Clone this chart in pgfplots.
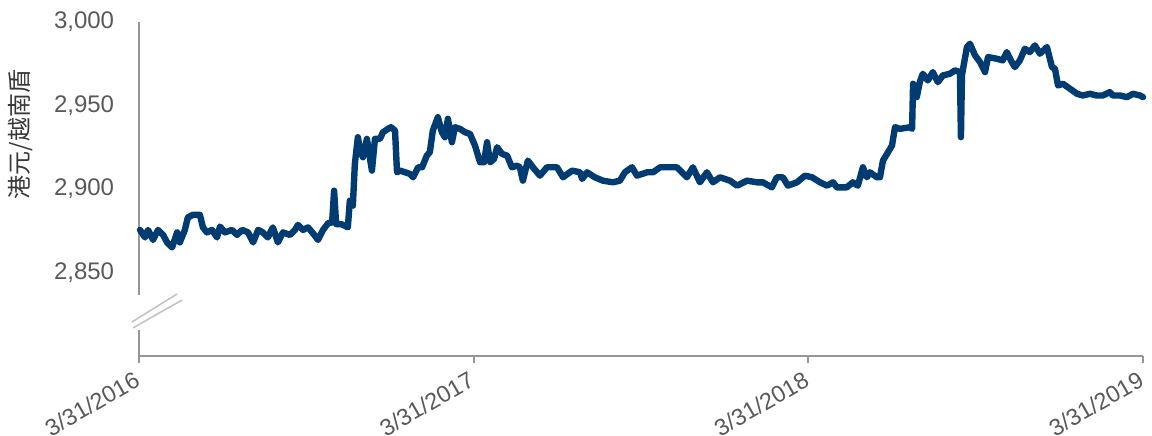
\documentclass[border=0pt]{standalone}
\usepackage{fontspec}
\setmainfont{Liberation Sans}
\newfontfamily\cjk{Noto Sans CJK SC}
\usepackage{pgfplots}
\pgfplotsset{compat=1.18}
\definecolor{lineblue}{RGB}{0,60,113}
\definecolor{axgray}{RGB}{150,150,150}
\definecolor{brkgray}{RGB}{195,195,195}
\definecolor{txtgray}{RGB}{89,89,89}
\begin{document}
\begin{tikzpicture}
\begin{axis}[
  name=ax,
  scale only axis,
  width=502pt, height=167pt,
  xmin=0, xmax=3, ymin=2800, ymax=3000,
  clip=false,
  axis x line=bottom, axis y line=left,
  x axis line style={-, draw=axgray, line width=1pt},
  y axis line style={draw=none},
  xtick={0,1,2,3},
  xticklabels={3/31/2016,3/31/2017,3/31/2018,3/31/2019},
  xtick align=outside,
  major tick length=3.5pt,
  xtick style={draw=axgray, line width=1pt},
  ytick={2850,2900,2950,3000},
  yticklabels={{2,850},{2,900},{2,950},{3,000}},
  ytick style={draw=none},
  tick label style={font=\fontsize{12}{14}\selectfont, text=txtgray},
  yticklabel style={anchor=east, inner sep=0pt, xshift=-10.5pt},
  xticklabel style={font=\fontsize{11.7}{14}\selectfont, rotate=30, anchor=north east, inner sep=0pt, xshift=-4.35pt, yshift=-1.5pt},
  ylabel={\cjk 港元/越南盾},
  ylabel style={at={(axis description cs:-0.1175,0.663)}, anchor=center, font=\fontsize{12}{14}\selectfont, text=black!78},
]
\draw[axgray, line width=1pt] (axis cs:0,3000) -- (axis cs:0,2836.3);
\draw[axgray, line width=1pt] (axis cs:0,2815.6) -- (axis cs:0,2800);
\draw[brkgray, line width=0.8pt] (axis cs:-0.021,2820.4) -- (axis cs:0.1135,2837.1);
\draw[brkgray, line width=0.8pt] (axis cs:-0.018,2816.8) -- (axis cs:0.1285,2833.5);
\addplot[lineblue, line width=3.2pt, line join=round, line cap=round] table {
x y
0.003 2875.5
0.018 2871
0.027 2875.5
0.042 2869.5
0.057 2875.5
0.072 2872.5
0.084 2868
0.099 2865
0.114 2874
0.122 2868
0.137 2875.5
0.146 2883
0.161 2884.5
0.182 2884.5
0.191 2877
0.203 2874
0.218 2875.5
0.233 2871
0.242 2877.5
0.257 2874
0.278 2875.5
0.293 2872.5
0.308 2875.5
0.326 2874
0.341 2868
0.356 2875.5
0.370 2874
0.385 2871
0.400 2877
0.415 2868
0.430 2874
0.451 2872.5
0.466 2875.5
0.475 2878.5
0.490 2875.5
0.505 2877
0.520 2873.5
0.535 2869.5
0.550 2875.5
0.565 2879.5
0.577 2880
0.583 2899
0.589 2879
0.604 2879
0.615 2878
0.624 2877
0.630 2893
0.639 2890
0.645 2915
0.654 2931
0.660 2924
0.669 2919
0.681 2930
0.696 2911
0.705 2930
0.720 2930
0.729 2934
0.744 2936
0.753 2937
0.765 2935
0.771 2910
0.780 2911
0.795 2910
0.810 2909
0.819 2907
0.834 2913
0.846 2913
0.860 2920
0.869 2922
0.878 2935
0.893 2943
0.905 2934
0.914 2931
0.923 2942
0.935 2928
0.944 2937
0.959 2936
0.974 2934
0.989 2933
1.004 2926
1.019 2916
1.031 2916
1.040 2928
1.049 2916
1.061 2918
1.070 2925
1.085 2921
1.100 2920
1.114 2913
1.129 2914
1.138 2913
1.147 2905
1.162 2917
1.177 2913
1.198 2908
1.219 2913
1.249 2913
1.267 2907
1.294 2911
1.318 2910
1.324 2906
1.339 2910
1.362 2907
1.386 2905
1.416 2904
1.437 2905
1.452 2910
1.473 2913
1.488 2908
1.518 2910
1.536 2910
1.557 2913
1.587 2913
1.607 2913
1.622 2910
1.637 2907
1.655 2913
1.676 2904
1.697 2910
1.715 2904
1.736 2907
1.766 2905
1.787 2902
1.817 2905
1.846 2904
1.864 2904
1.891 2901
1.906 2907
1.924 2907
1.939 2902
1.966 2904
1.990 2908
2.011 2907
2.035 2904
2.056 2902
2.074 2904
2.085 2901
2.115 2901
2.133 2904
2.148 2902
2.163 2913
2.175 2907
2.184 2910
2.205 2907
2.214 2907
2.223 2917
2.238 2922
2.250 2926
2.259 2937
2.274 2936
2.304 2937
2.310 2936
2.313 2963
2.324 2955
2.333 2964
2.342 2969
2.357 2965
2.372 2970
2.387 2964
2.402 2968
2.423 2969
2.438 2971
2.453 2970
2.456 2931
2.459 2968
2.465 2975
2.474 2985
2.483 2987
2.498 2980
2.513 2976
2.528 2970
2.537 2979
2.563 2978
2.581 2977
2.593 2982
2.608 2976
2.617 2973
2.632 2977
2.647 2984
2.662 2982
2.677 2986
2.692 2981
2.713 2985
2.728 2973
2.737 2972
2.746 2962
2.761 2963
2.782 2960
2.803 2957
2.820 2956
2.841 2957
2.862 2956
2.880 2956
2.901 2958
2.910 2956
2.931 2956
2.952 2955
2.970 2957
2.991 2956
3.000 2955
};
\end{axis}
\pgfresetboundingbox
\path[use as bounding box] ([shift={(-69.5pt,-40pt)}]ax.south west) rectangle ([shift={(4.5pt,11pt)}]ax.north east);
\end{tikzpicture}
\end{document}
